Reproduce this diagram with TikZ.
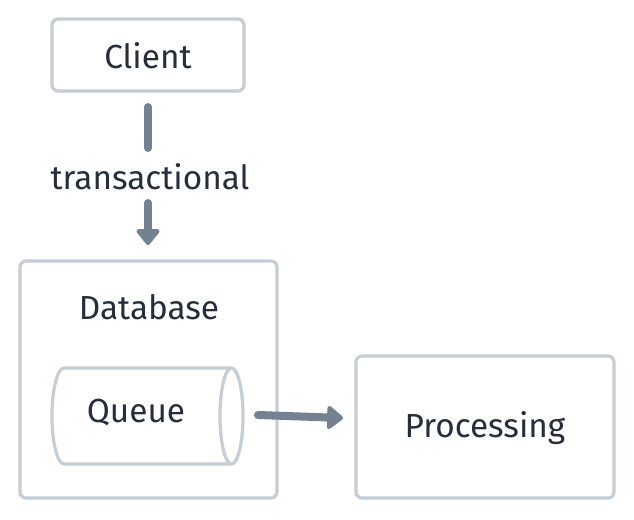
\documentclass[tikz,border=0pt]{standalone}
\usepackage{fontspec}
\setmainfont{Fira Sans}
\usetikzlibrary{arrows.meta}
\definecolor{bordc}{HTML}{C5CDD5}
\definecolor{arrc}{HTML}{738190}
\definecolor{txtc}{HTML}{252E3A}
\tikzset{
  boxst/.style={draw=bordc, line width=2.4pt, rounded corners=4.5pt, fill=white},
  lbl/.style={text=txtc, font=\fontsize{25}{30}\selectfont, inner sep=0pt},
  arrst/.style={draw=arrc, line width=6pt, line cap=round, -{Triangle[width=20pt,length=13pt,round]}},
  linest/.style={draw=arrc, line width=6pt, line cap=round},
}
\begin{document}
\begin{tikzpicture}[x=0.75pt,y=-0.75pt]
\useasboundingbox (0,0) rectangle (634,520);
% boxes
\draw[boxst] (52,19) rectangle (244,91);
\node[lbl] (client) at (148,56) {Client};
\draw[boxst] (20,261) rectangle (277,498);
\node[lbl] (db) at (149,307) {Database};
\draw[boxst] (356,356) rectangle (614,498);
\node[lbl] (proc) at (485,428) {Processing};
% cylinder
\draw[draw=bordc, line width=2.4pt, fill=white]
  (231.5,368) -- (64,368) arc[start angle=270, end angle=90, x radius=12, y radius=48]
  -- (231.5,464);
\draw[draw=bordc, line width=2.4pt, fill=white] (231.5,416) ellipse[x radius=11.5, y radius=48];
\node[lbl] (queue) at (136,413) {Queue};
% connector end points
\coordinate (c1) at (148,107);
\coordinate (c2) at (148,148);
\coordinate (c3) at (148,203);
\coordinate (c4) at (148,245);
\coordinate (q1) at (258,415);
\coordinate (q2) at (343,418);
\node[lbl] (trans) at (150,177) {transactional};
\draw[linest] (c1) -- (c2);
\draw[arrst] (c3) -- (c4);
\draw[arrst] (q1) -- (q2);
\end{tikzpicture}
\end{document}
